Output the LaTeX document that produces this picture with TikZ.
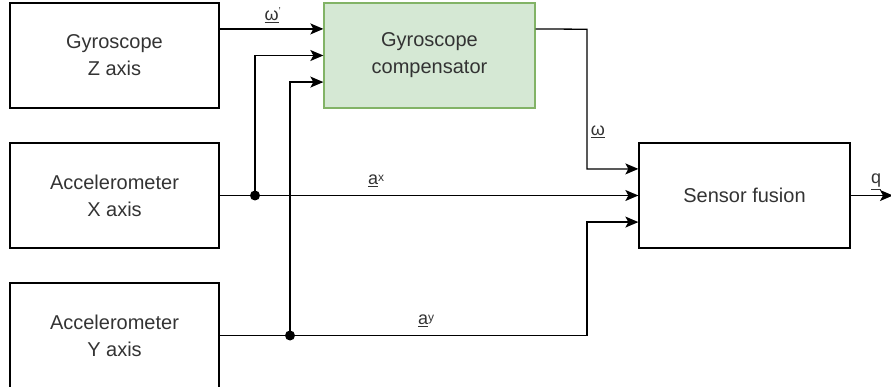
\documentclass[tikz,border=0pt]{standalone}
\usepackage{fontspec}
\setmainfont{Liberation Sans}
\usetikzlibrary{arrows.meta,calc}
\definecolor{txt}{HTML}{333333}
\definecolor{gfill}{HTML}{D5E8D4}
\definecolor{gdraw}{HTML}{82B366}
\newcommand{\subx}[1]{\raisebox{3.5pt}{\fontsize{12}{12}\selectfont #1}}
\begin{document}
\begin{tikzpicture}[x=1pt,y=-1pt,
 blk/.style={draw=black, line width=1.3pt, minimum width=209pt, minimum height=105pt, inner sep=0pt, align=center, text=txt, font=\fontsize{20}{27}\selectfont},
 conn/.style={line width=1.3pt},
 arr/.style={conn, -{Stealth[length=13pt,width=11pt,inset=3pt]}},
 jdot/.style={circle, fill=black, inner sep=0pt, minimum size=10pt},
 lbl/.style={text=txt, font=\fontsize{18}{18}\selectfont, inner sep=0pt}]
\useasboundingbox (0,0) rectangle (891,387);
\clip (0,0) rectangle (891,387);
\node[blk] (gz) at (114.5,55.5) {Gyroscope\\Z axis};
\node[blk] (ax) at (114.5,195.5) {Accelerometer\\X axis};
\node[blk] (ay) at (114.5,335.5) {Accelerometer\\Y axis};
\node[blk, fill=gfill, draw=gdraw, minimum width=211pt] (comp) at (429.5,55.5) {Gyroscope\\compensator};
\node[blk, minimum width=211pt] (fus) at (744.5,195.5) {Sensor fusion};
% anchor points
\coordinate (g1) at ($(gz.north east)!0.25!(gz.south east)$);
\coordinate (c1) at ($(comp.north west)!0.25!(comp.south west)$);
\coordinate (c2) at (comp.west);
\coordinate (c3) at ($(comp.north west)!0.75!(comp.south west)$);
\coordinate (co) at ($(comp.north east)!0.25!(comp.south east)$);
\coordinate (f1) at ($(fus.north west)!0.25!(fus.south west)$);
\coordinate (f2) at (fus.west);
\coordinate (f3) at ($(fus.north west)!0.75!(fus.south west)$);
\coordinate (b1) at (587,29.25);
\coordinate (b2) at (587,335.5);
\coordinate (qend) at (893,195.5);
\node[jdot] (j1) at (255,195.5) {};
\node[jdot] (j2) at (290,335.5) {};
% connectors
\draw[arr] (g1) -- (c1);
\draw[arr] (ax.east) -- (f2);
\draw[arr] (j1.center) |- (c2);
\draw[conn] (ay.east) -- (j2.center);
\draw[arr] (j2.center) |- (c3);
\draw[arr] (j2.center) -- (b2) |- (f3);
\draw[arr] (co) -- (b1) |- (f1);
\draw[arr] (fus.east) -- (qend);
% labels
\node[lbl] (lw1) at (273,15) {\underline{ω}\textsuperscript{\fontsize{10}{10}\selectfont '}};
\node[lbl] (lw) at (598,132) {\underline{ω}};
\node[lbl] (lax) at (376,181) {\underline{a}\subx{x}};
\node[lbl] (lay) at (426,321) {\underline{a}\subx{y}};
\node[lbl] (lq) at (876,182) {\underline{q}};
\end{tikzpicture}
\end{document}
